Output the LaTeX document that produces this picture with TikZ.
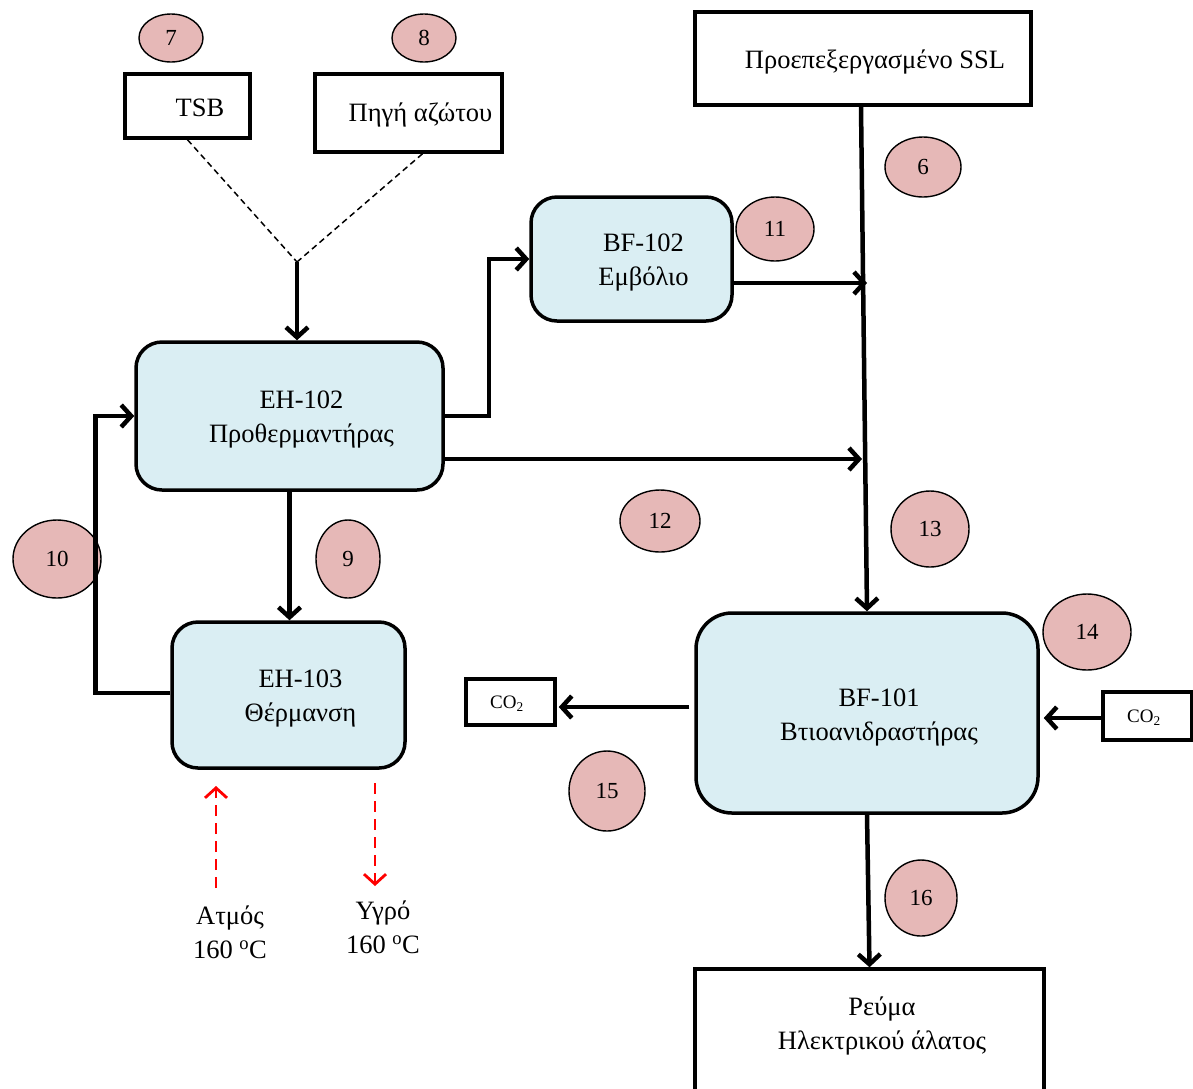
\documentclass[tikz,border=0pt]{standalone}
\usepackage{fontspec}
\setmainfont{Liberation Serif}
\usetikzlibrary{arrows.meta,shapes.geometric}
\definecolor{procblue}{HTML}{DAEEF3}
\definecolor{tagpink}{HTML}{E6B8B7}
\begin{document}
\begin{tikzpicture}[x=1pt,y=-1pt,
  proc/.style={draw,line width=3.5pt,fill=procblue,rounded corners=26pt,inner sep=0pt},
  plainbox/.style={draw,line width=3.5pt,inner sep=0pt},
  lbl/.style={align=center,font=\fontsize{26.5}{34}\selectfont},
  smalllbl/.style={font=\fontsize{19}{22}\selectfont},
  tag/.style={ellipse,draw,line width=1.4pt,fill=tagpink,inner sep=0pt,font=\fontsize{23}{26}\selectfont},
  flow/.style={line width=4.5pt,-{Straight Barb[length=10pt,width=22pt]}},
  feed/.style={line width=1.5pt,dash pattern=on 6pt off 4pt},
  heatflow/.style={red,line width=2.8pt,dash pattern=on 11pt off 7pt,-{Straight Barb[length=10pt,width=22pt]}}
]
\useasboundingbox (0,0) rectangle (1193,1088);

% boxes
\node[plainbox,minimum width=125pt,minimum height=64pt] (tsb) at (187.5,106) {};
\node[lbl] (tsbt) at (200,108) {TSB};
\node[plainbox,minimum width=187pt,minimum height=78pt] (n2src) at (408.5,113) {};
\node[lbl] (n2srct) at (420.5,115) {Πηγή αζώτου};
\node[plainbox,minimum width=336pt,minimum height=93pt] (ssl) at (863,58.5) {};
\node[lbl] (sslt) at (875,62) {Προεπεξεργασμένο SSL};

\node[proc,minimum width=201pt,minimum height=124pt] (bf102) at (631.5,259) {};
\node[lbl] (bf102t) at (643.5,263) {BF-102\\Εμβόλιο};
\node[proc,minimum width=307pt,minimum height=148pt] (eh102) at (289.5,416) {};
\node[lbl] (eh102t) at (301.5,420) {ΕΗ-102\\Προθερμαντήρας};
\node[proc,minimum width=233pt,minimum height=146pt] (eh103) at (288.5,695) {};
\node[lbl] (eh103t) at (300.5,699) {ΕΗ-103\\Θέρμανση};
\node[proc,rounded corners=36pt,minimum width=342pt,minimum height=200pt] (bf101) at (867,713) {};
\node[lbl] (bf101t) at (879,717) {BF-101\\Βτιοανιδραστήρας};

\node[plainbox,minimum width=89pt,minimum height=46pt] (co2l) at (510.5,702) {};
\node[smalllbl] (co2lt) at (507,704) {CO\textsubscript{2}};
\node[plainbox,minimum width=89pt,minimum height=48pt] (co2r) at (1147.5,716) {};
\node[smalllbl] (co2rt) at (1144,718) {CO\textsubscript{2}};

\node[plainbox,minimum width=349pt,minimum height=140pt] (rev) at (869.5,1039) {};
\node[lbl] (revt) at (882,1026) {Ρεύμα\\Ηλεκτρικού άλατος};

% steam labels
\node[lbl] (atm) at (230,932) {Ατμός\\160 \textsuperscript{o}C};
\node[lbl] (ygr) at (383,927) {Υγρό\\160 \textsuperscript{o}C};

% tags
\node[tag,minimum width=64pt,minimum height=48pt] (t7) at (171,38) {7};
\node[tag,minimum width=64pt,minimum height=48pt] (t8) at (424,38) {8};
\node[tag,minimum width=76pt,minimum height=60pt] (t6) at (923,167) {6};
\node[tag,minimum width=78pt,minimum height=64pt] (t11) at (775,229) {11};
\node[tag,minimum width=88pt,minimum height=78pt] (t10) at (57,559) {10};
\node[tag,minimum width=64pt,minimum height=78pt] (t9) at (348,559) {9};
\node[tag,minimum width=80pt,minimum height=62pt] (t12) at (660,521) {12};
\node[tag,minimum width=78pt,minimum height=76pt] (t13) at (930,529) {13};
\node[tag,minimum width=88pt,minimum height=76pt] (t14) at (1087,632) {14};
\node[tag,minimum width=76pt,minimum height=80pt] (t15) at (607,791) {15};
\node[tag,minimum width=72pt,minimum height=76pt] (t16) at (921,898) {16};

% junction coordinates
\coordinate (mix) at (297,262);
\coordinate (jA) at (867,283);
\coordinate (jB) at (862,459);
\coordinate (steamin) at (216,888);
\coordinate (steamtop) at (216,786);
\coordinate (condtop) at (375,783);
\coordinate (condout) at (375,886);

% connectors
\draw[feed] (tsb.south) -- (mix);
\draw[feed] ([xshift=14pt]n2src.south) -- (mix);
\draw[flow] (mix) -- (mix |- eh102.north);
\draw[flow] (eh102.east) -- ++(44,0) |- (bf102.west);
\draw[flow] ([yshift=-24pt]bf102.east) -- (jA);
\draw[flow] ([yshift=-43pt]eh102.east) -- (jB);
\draw[flow] ([xshift=-2pt]ssl.south) -- (bf101.north);
\draw[flow] (eh102.south) -- (eh102.south |- eh103.north);
\draw[flow] ([yshift=2pt]eh103.west) -- ++(-75,0) |- (eh102.west);
\draw[flow,shorten >=2pt] ([yshift=6pt,xshift=-5pt]bf101.west) -- ([yshift=-5pt]co2l.east);
\draw[flow,shorten >=4pt] ([yshift=-2pt]co2r.west) -- ([yshift=-5pt]bf101.east);
\draw[flow] (bf101.south) -- (rev.north);
\draw[heatflow] (steamin) -- (steamtop);
\draw[heatflow] (condtop) -- (condout);
\end{tikzpicture}
\end{document}
